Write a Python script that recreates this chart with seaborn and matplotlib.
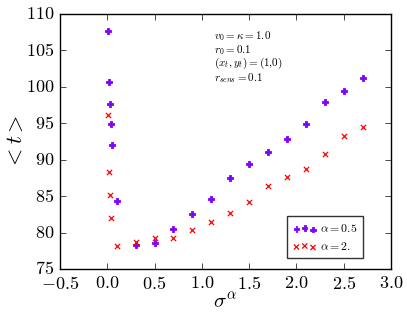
import numpy as np
import pandas as pd
import seaborn as sns
import matplotlib.pyplot as plt

# data
sigma_a05 = [0.01, 0.02, 0.03, 0.04, 0.05, 0.1, 0.3, 0.5, 0.7, 0.9, 1.1, 1.3, 1.5, 1.7, 1.9, 2.1, 2.3, 2.5, 2.7]
t_a05 = [107.6, 100.7, 97.7, 94.9, 92.0, 84.4, 78.3, 78.6, 80.5, 82.6, 84.6, 87.5, 89.4, 91.0, 92.8, 94.9, 97.9, 99.4, 101.2]
sigma_a2 = [0.01, 0.02, 0.03, 0.04, 0.1, 0.3, 0.5, 0.7, 0.9, 1.1, 1.3, 1.5, 1.7, 1.9, 2.1, 2.3, 2.5, 2.7]
t_a2 = [96.2, 88.3, 85.2, 82.0, 78.2, 78.7, 79.2, 79.2, 80.4, 81.5, 82.7, 84.2, 86.4, 87.6, 88.7, 90.8, 93.2, 94.5]

df05 = pd.DataFrame({'sigma': sigma_a05, 't': t_a05})
df2 = pd.DataFrame({'sigma': sigma_a2, 't': t_a2})

plt.style.use('classic')
plt.rcParams['font.family'] = 'serif'
plt.rcParams['font.serif'] = ['cmr10', 'DejaVu Serif']
plt.rcParams['mathtext.fontset'] = 'cm'
plt.rcParams['axes.formatter.use_mathtext'] = True

fig = plt.figure(figsize=(4.07, 3.16), dpi=100)
fig.patch.set_facecolor('white')
ax = fig.add_axes([60/407, 1 - 269/316, 331/407, 255/316])

sns.scatterplot(data=df05, x='sigma', y='t', marker='P', s=16, color='#8000ff',
                edgecolor='#8000ff', linewidth=0.6, label=r'$\alpha=$0.5', ax=ax)
sns.scatterplot(data=df2, x='sigma', y='t', marker='x', s=14, color='#ff0000',
                linewidth=0.9, label=r'$\alpha=$2.', ax=ax)

ax.set_xlim(-0.5, 3.0)
ax.set_ylim(75, 110)
ax.set_xticks(np.arange(-0.5, 3.01, 0.5))
ax.set_yticks(np.arange(75, 111, 5))
ax.tick_params(labelsize=13, direction='in', top=True, right=True, pad=4)
ax.set_xlabel(r'$\sigma^\alpha$', fontsize=15, labelpad=0)
ax.set_ylabel(r'$<t>$', fontsize=16, labelpad=0)

ax.text(0.465, 0.94,
        r'$v_0=\kappa=$' + r'$\mathbf{1.0}$' + '\n' +
        r'$r_0=$' + r'$\mathbf{0.1}$' + '\n' +
        r'$(x_t,y_t)=$' + r'$\mathbf{(1{,}0)}$' + '\n' +
        r'$r_{sens}=$' + r'$\mathbf{0.1}$',
        transform=ax.transAxes, fontsize=8, va='top', ha='left', linespacing=0.95)

leg = ax.legend(loc='lower right', bbox_to_anchor=(0.934, 0.02), scatterpoints=3,
                scatteryoffsets=[0.375, 0.5, 0.3125], fontsize=8.5, frameon=True,
                handletextpad=0.3, borderpad=0.5, labelspacing=0.5)
leg.get_frame().set_linewidth(1.0)
leg.get_frame().set_edgecolor('#333333')

fig.savefig('out.png', dpi=100, facecolor='white')
